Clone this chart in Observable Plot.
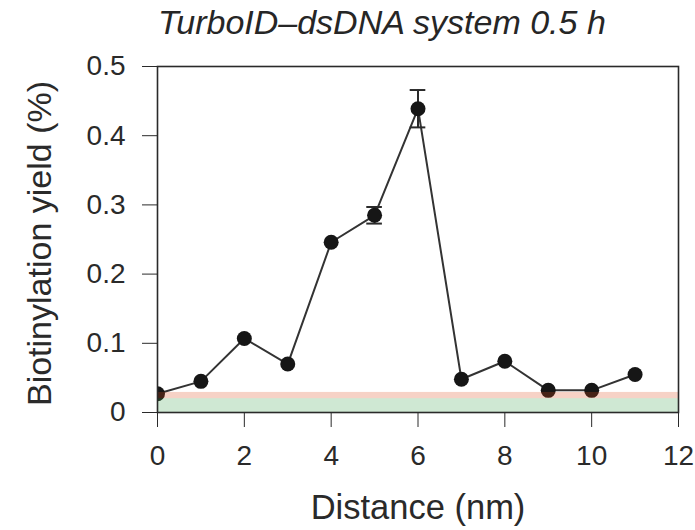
<!DOCTYPE html>
<html>
<head>
<meta charset="utf-8">
<script src="https://cdn.jsdelivr.net/npm/d3@7"></script>
<script src="https://cdn.jsdelivr.net/npm/@observablehq/plot@0.6"></script>
<style>
  html, body { margin: 0; padding: 0; background: #fff; }
  #wrap { width: 695px; height: 530px; position: relative; overflow: hidden; background: #fff; font-family: "Liberation Sans", Arial, sans-serif; }
  #title { position: absolute; left: 158px; top: 5px; font-size: 34px; font-style: italic; color: #262626; white-space: nowrap; line-height: 1; z-index: 2; }
  #chart { position: absolute; left: 0; top: 25px; z-index: 1; }
</style>
</head>
<body>
<div id="wrap">
  <div id="title">TurboID–dsDNA system 0.5 h</div>
  <div id="chart"></div>
</div>
<script>
// Data
const distance = [0, 1, 2, 3, 4, 5, 6, 7, 8, 9, 10, 11];
const yieldPct = [0.027, 0.045, 0.107, 0.070, 0.246, 0.285, 0.439, 0.048, 0.074, 0.032, 0.032, 0.055];
const errDistance = [5, 6];
const errSize = [0.012, 0.027];
const bandLow = [0, 0.02];
const bandHigh = [0.02, 0.029];
const bandColor = ["#40a450", "#dc4c1c"];
const xTicks = [0, 2, 4, 6, 8, 10, 12];
const yTicks = [0, 0.1, 0.2, 0.3, 0.4, 0.5];
const xDomain = [0, 12];
const yDomain = [0, 0.5];
const xLabel = "Distance (nm)";
const yLabel = "Biotinylation yield (%)";

const points = distance.map((d, i) => ({x: d, y: yieldPct[i]}));
const errors = errDistance.map((d, i) => {
  const v = yieldPct[distance.indexOf(d)];
  return {x: d, lo: v - errSize[i], hi: v + errSize[i]};
});
const bands = bandLow.map((lo, i) => ({lo, hi: bandHigh[i], fill: bandColor[i]}));
const capHalf = 0.18;

const ink = "#2a2a2a";

const chart = Plot.plot({
  width: 695,
  height: 505,
  marginLeft: 157,
  marginRight: 17,
  marginTop: 41,
  marginBottom: 118,
  style: {fontFamily: "'Liberation Sans', Arial, sans-serif", fontSize: "28px", color: ink, background: "transparent", display: "block"},
  x: {domain: xDomain, ticks: xTicks, tickSize: 15, tickPadding: 18, label: null},
  y: {domain: yDomain, ticks: yTicks, tickSize: 15, tickPadding: 17, label: null,
      tickFormat: d => d === 0 ? "0" : d3.format(".1f")(d)},
  marks: [
    Plot.line(points, {x: "x", y: "y", stroke: "#333", strokeWidth: 2, clip: true}),
    Plot.ruleX(errors, {x: "x", y1: "lo", y2: "hi", stroke: ink, strokeWidth: 2}),
    Plot.ruleY(errors, {y: "hi", x1: d => d.x - capHalf, x2: d => d.x + capHalf, stroke: ink, strokeWidth: 2}),
    Plot.ruleY(errors, {y: "lo", x1: d => d.x - capHalf, x2: d => d.x + capHalf, stroke: ink, strokeWidth: 2}),
    Plot.dot(points, {x: "x", y: "y", r: 7.5, fill: "#161616", stroke: "none", clip: true}),
    Plot.rect(bands, {x1: xDomain[0], x2: xDomain[1], y1: "lo", y2: "hi", fill: "fill", fillOpacity: 0.25}),
    Plot.frame({stroke: ink, strokeWidth: 1.6}),
    Plot.text([xLabel], {frameAnchor: "bottom", dy: 106, fontSize: 34.5, fill: ink}),
    Plot.text([yLabel], {frameAnchor: "left", textAnchor: "middle", rotate: -90, dx: -117, dy: 4, fontSize: 34, fill: ink})
  ]
});
document.getElementById("chart").appendChild(chart);
</script>
</body>
</html>
